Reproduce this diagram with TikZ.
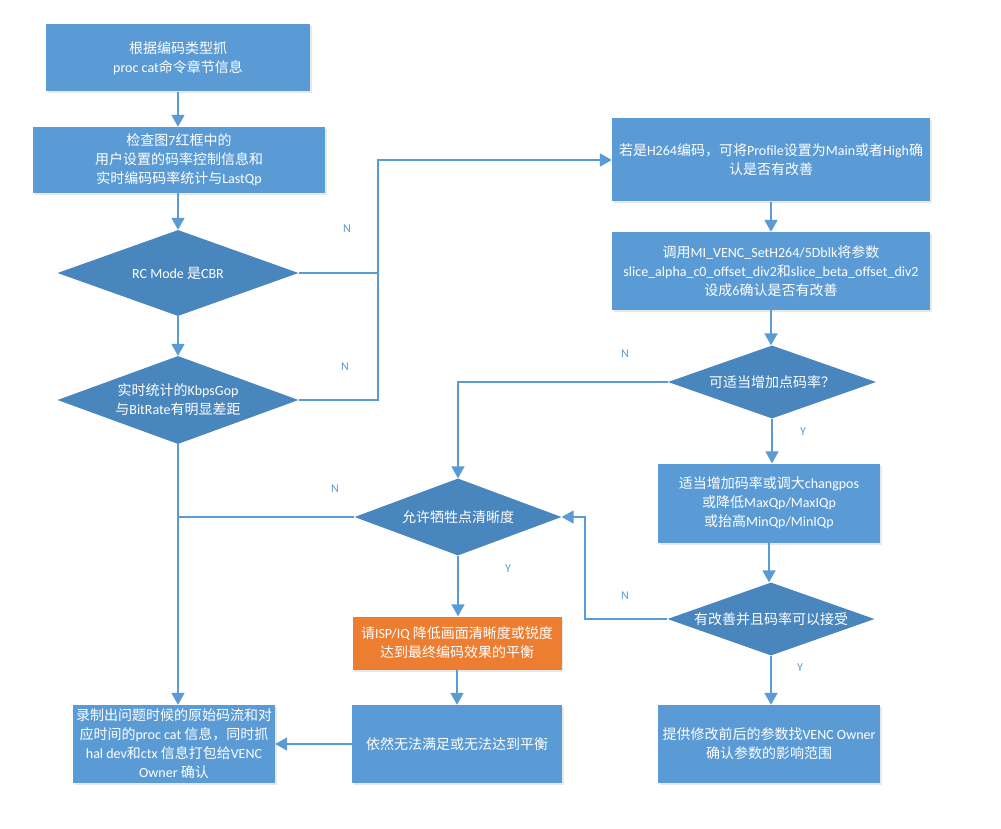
\documentclass[tikz,border=0pt]{standalone}
\usepackage{fontspec}
\setmainfont{Carlito}
\newfontfamily\cjk{Noto Sans CJK SC}
\usetikzlibrary{shapes.geometric,arrows.meta,shadows}

\definecolor{boxblue}{HTML}{5B9BD5}
\definecolor{diablue}{HTML}{4A86BE}
\definecolor{lineblue}{HTML}{5B9BD5}
\definecolor{boxorange}{HTML}{ED7D31}

% Chinese characters switch to the CJK font by themselves
\XeTeXinterchartokenstate=1
\newXeTeXintercharclass\hanclass
\newcommand\hanrange[2]{\count255=#1\relax
  \loop\XeTeXcharclass\count255=\hanclass\relax
  \ifnum\count255<#2\relax\advance\count255 by 1\relax\repeat}
\hanrange{"3000}{"303F}
\hanrange{"4E00}{"9FFF}
\hanrange{"FF00}{"FFEF}
\XeTeXinterchartoks 0 \hanclass = {\begingroup\cjk}
\XeTeXinterchartoks 4095 \hanclass = {\begingroup\cjk}
\XeTeXinterchartoks \hanclass 0 = {\endgroup}
\XeTeXinterchartoks \hanclass 4095 = {\endgroup}

\begin{document}
\begin{tikzpicture}[x=1pt,y=-1pt,
  >={Triangle[width=13pt,length=12pt]},
  every node/.style={font=\fontsize{14}{19}\selectfont, text=white, align=center, inner sep=0pt},
  procbox/.style={rectangle, fill=boxblue, drop shadow={shadow xshift=1.5pt,shadow yshift=-2pt,opacity=0.18}},
  decide/.style={diamond, aspect=2.8, fill=diablue},
  line/.style={draw=lineblue, line width=1.8pt},
  lbl/.style={text=lineblue, font=\fontsize{12}{14}\selectfont}]

  % Background
  \fill[white] (0,0) rectangle (1001,829);
  \useasboundingbox (0,0) rectangle (1001,829);

  % Left column
  \node[procbox, minimum width=264pt, minimum height=67pt] (grab) at (178,58) {根据编码类型抓\\proc cat命令章节信息};
  \node[procbox, minimum width=292pt, minimum height=66pt] (check) at (179,160) {检查图7红框中的\\用户设置的码率控制信息和\\实时编码码率统计与LastQp};
  \node[decide, minimum width=241pt, minimum height=86pt] (iscbr) at (178,273) {RC Mode 是CBR};
  \node[decide, minimum width=241pt, minimum height=88pt] (gap) at (178,400) {实时统计的KbpsGop\\与BitRate有明显差距};
  \node[procbox, minimum width=202pt, minimum height=78pt] (record) at (174,744) {录制出问题时候的原始码流和对\\应时间的proc cat 信息，同时抓\\hal dev和ctx 信息打包给VENC\\Owner 确认};

  % Right column
  \node[procbox, minimum width=318pt, minimum height=83pt] (profile) at (771,160) {若是H264编码，可将Profile设置为Main或者High确\\认是否有改善};
  \node[procbox, minimum width=318pt, minimum height=78pt] (dblk) at (771,271) {调用MI\_VENC\_SetH264/5Dblk将参数\\slice\_alpha\_c0\_offset\_div2和slice\_beta\_offset\_div2\\设成6确认是否有改善};
  \node[decide, minimum width=208pt, minimum height=73pt] (addrate) at (772,382) {可适当增加点码率？};
  \node[procbox, minimum width=222pt, minimum height=79pt] (tune) at (769,503) {适当增加码率或调大changpos\\或降低MaxQp/MaxIQp\\或抬高MinQp/MinIQp};
  \node[decide, minimum width=207pt, minimum height=73pt] (accept) at (771,619) {有改善并且码率可以接受};
  \node[procbox, minimum width=222pt, minimum height=78pt] (owner) at (769,744) {提供修改前后的参数找VENC Owner\\确认参数的影响范围};

  % Middle column
  \node[decide, minimum width=207pt, minimum height=77pt] (sharp) at (458,517) {允许牺牲点清晰度};
  \node[procbox, fill=boxorange, minimum width=209pt, minimum height=53pt] (isp) at (457,643) {请ISP/IQ 降低画面清晰度或锐度\\达到最终编码效果的平衡};
  \node[procbox, minimum width=210pt, minimum height=78pt] (nobal) at (457,744) {依然无法满足或无法达到平衡};

  % Bus lines
  \coordinate (nbus) at (378,0);
  \coordinate (rbus) at (585,0);

  % Connectors
  \draw[line,->] (grab.south) -- (grab.south |- check.north);
  \draw[line,->] (iscbr.north |- check.south) -- (iscbr.north);
  \draw[line,->] (iscbr.south) -- (gap.north);
  \draw[line,->] (iscbr.east) -| (nbus |- profile.west) -- (profile.west);
  \draw[line] (gap.east) -| (nbus |- iscbr.east);
  \draw[line,->] (gap.south) -- (gap.south |- record.north);
  \draw[line] (sharp.west) -- (gap.south |- sharp.west);
  \draw[line,->] (profile.south) -- (dblk.north);
  \draw[line,->] (dblk.south) -- (dblk.south |- addrate.north);
  \draw[line,->] (addrate.west) -| (sharp.north);
  \draw[line,->] (addrate.south) -- (addrate.south |- tune.north);
  \draw[line,->] (tune.south) -- (tune.south |- accept.north);
  \draw[line,->] (accept.south) -- (accept.south |- owner.north);
  \draw[line,->] (accept.west) -- (rbus |- accept.west) |- (sharp.east);
  \draw[line,->] (sharp.south) -- (sharp.south |- isp.north);
  \draw[line,->] (isp.south) -- (isp.south |- nobal.north);
  \draw[line,->] (nobal.west) -- (record.east);

  % Branch labels
  \foreach \name/\x/\y/\t in {ncbr/347/229/N, ngap/345/367/N, nrate/625/354/N, yrate/803/432/Y,
      nsharp/335/489/N, ysharp/508/569/Y, naccept/625/596/N, yaccept/800/668/Y} {
    \node[lbl] (\name) at (\x,\y) {\t};
  }

\end{tikzpicture}
\end{document}
